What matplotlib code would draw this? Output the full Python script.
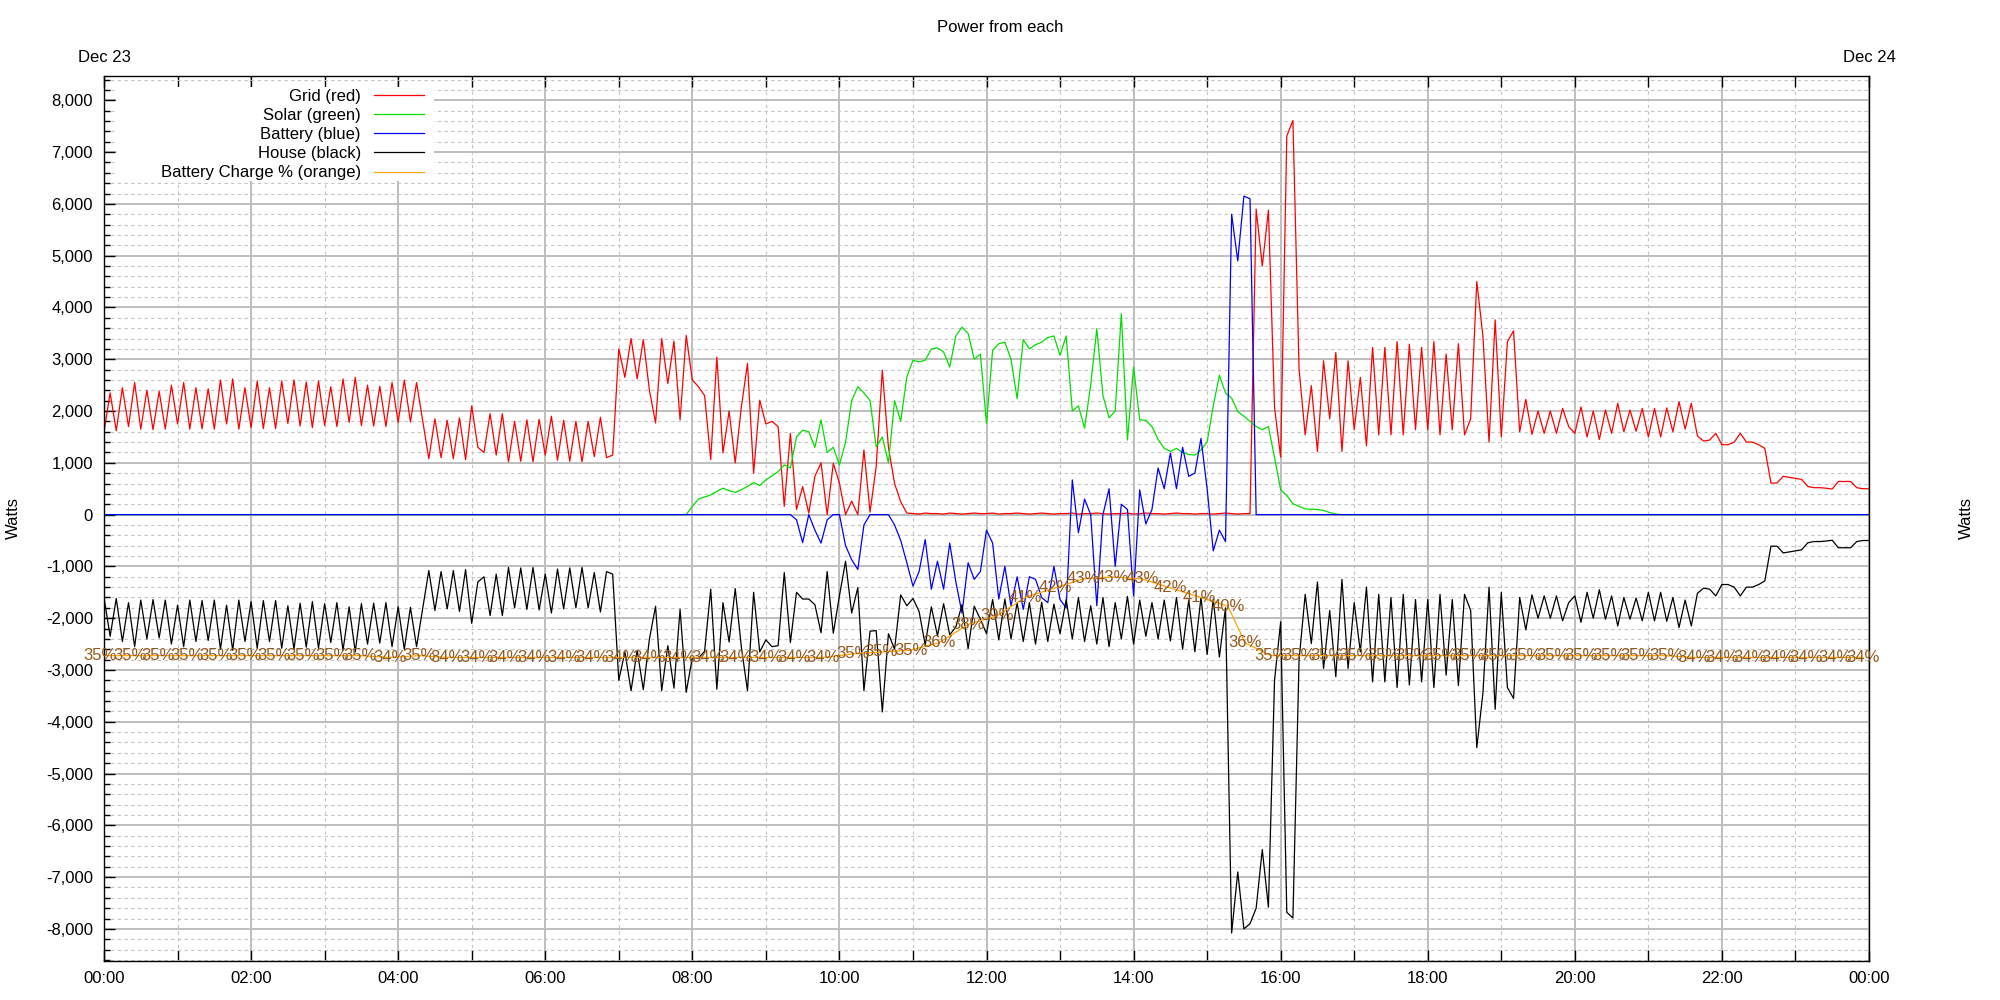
import numpy as np
import matplotlib
matplotlib.use('Agg')
import matplotlib.pyplot as plt
from matplotlib.ticker import MultipleLocator, FuncFormatter
from matplotlib.patches import Rectangle

plt.rcParams['font.family'] = ['Liberation Sans Narrow', 'Liberation Sans', 'DejaVu Sans']
plt.rcParams['font.size'] = 12

# 5-minute samples, minutes after midnight (Dec 23 00:00 .. Dec 24 00:00)
minutes = np.arange(0, 1441, 5)

# Grid power (W), one row per hour
grid = [
    1600, 2350, 1620, 2450, 1700, 2550, 1650, 2400, 1640, 2380, 1650, 2500,
    1750, 2550, 1650, 2450, 1660, 2430, 1650, 2600, 1750, 2620, 1650, 2450,
    1680, 2580, 1660, 2450, 1660, 2580, 1760, 2600, 1710, 2560, 1680, 2580,
    1720, 2470, 1700, 2620, 1780, 2650, 1720, 2500, 1710, 2480, 1700, 2550,
    1780, 2600, 1790, 2550, 1820, 1080, 1850, 1100, 1820, 1080, 1870, 1060,
    2100, 1300, 1200, 1950, 1150, 1950, 1020, 1800, 1030, 1830, 1020, 1840,
    1150, 1900, 1050, 1820, 1030, 1800, 1020, 1800, 1120, 1880, 1100, 1150,
    3200, 2650, 3400, 2620, 3380, 2400, 1770, 3400, 2530, 3350, 1830, 3460,
    2600, 2470, 2300, 1060, 3040, 1190, 2000, 1000, 2080, 2920, 800, 2210,
    1750, 1800, 1700, 160, 1570, 100, 540, 30, 740, 1000, 0, 990,
    610, 0, 260, 0, 1250, 50, 930, 2790, 1300, 600, 250, 30,
    20, 10, 30, 20, 20, 10, 30, 20, 10, 20, 30, 20,
    20, 30, 10, 20, 20, 30, 20, 10, 20, 30, 20, 10,
    20, 20, 30, 10, 20, 20, 30, 20, 10, 20, 20, 30,
    10, 20, 30, 20, 20, 10, 20, 30, 20, 20, 10, 20,
    20, 10, 20, 30, 20, 10, 20, 20, 5900, 4800, 5880, 2070,
    1110, 7310, 7610, 2810, 1540, 2490, 1220, 2970, 1850, 3130, 1220, 2970,
    1640, 2650, 1330, 3230, 1540, 3230, 1540, 3340, 1540, 3290, 1640, 3230,
    1640, 3340, 1540, 3100, 1640, 3300, 1540, 1850, 4500, 3450, 1400, 3760,
    1500, 3340, 3550, 1600, 2225, 1550, 2000, 1570, 2000, 1570, 2050, 1700,
    1570, 2080, 1500, 2000, 1450, 2020, 1570, 2150, 1600, 2020, 1610, 2050,
    1500, 2050, 1500, 2060, 1600, 2180, 1650, 2150, 1520, 1420, 1440, 1570,
    1350, 1350, 1400, 1570, 1400, 1400, 1350, 1280, 610, 610, 740, 720,
    700, 680, 545, 520, 520, 510, 495, 640, 640, 640, 520, 500,
    500,
]

# House power (W)
house = [
    -1600, -2350, -1620, -2450, -1700, -2550, -1650, -2400, -1640, -2380, -1650, -2500,
    -1750, -2550, -1650, -2450, -1660, -2430, -1650, -2600, -1750, -2620, -1650, -2450,
    -1680, -2580, -1660, -2450, -1660, -2580, -1760, -2600, -1710, -2560, -1680, -2580,
    -1720, -2470, -1700, -2620, -1780, -2650, -1720, -2500, -1710, -2480, -1700, -2550,
    -1780, -2600, -1790, -2550, -1820, -1080, -1850, -1100, -1820, -1080, -1870, -1060,
    -2100, -1300, -1200, -1950, -1150, -1950, -1020, -1800, -1030, -1830, -1020, -1840,
    -1150, -1900, -1050, -1820, -1030, -1800, -1020, -1800, -1120, -1880, -1100, -1150,
    -3200, -2650, -3400, -2620, -3380, -2400, -1770, -3400, -2530, -3350, -1830, -3430,
    -2760, -2770, -2640, -1440, -3370, -1700, -2460, -1430, -2560, -3400, -1500, -2650,
    -2420, -2550, -2530, -1120, -2470, -1500, -1630, -1630, -1740, -2280, -1100, -2290,
    -1570, -900, -1900, -1410, -3400, -2250, -2240, -3810, -2300, -2600, -1550, -1760,
    -1620, -1870, -2520, -1780, -2340, -1720, -2320, -2170, -1740, -2590, -1770, -2020,
    -2300, -1640, -2420, -1630, -2400, -1700, -2450, -1700, -2500, -1690, -2450, -1730,
    -2300, -1640, -2400, -1600, -2450, -1760, -2500, -1600, -2550, -1700, -2400, -1580,
    -2500, -1650, -2350, -1700, -2400, -1650, -2440, -1600, -2600, -1650, -2650, -1600,
    -2700, -1630, -2750, -1800, -8080, -6900, -8000, -7900, -7600, -6470, -7580, -3200,
    -2070, -7680, -7790, -2810, -1540, -2490, -1300, -2970, -1850, -3130, -1250, -2970,
    -1700, -2650, -1400, -3230, -1540, -3230, -1600, -3340, -1540, -3290, -1640, -3230,
    -1640, -3340, -1540, -3100, -1640, -3300, -1540, -1850, -4500, -3450, -1400, -3760,
    -1500, -3340, -3550, -1600, -2225, -1550, -2000, -1570, -2000, -1570, -2050, -1700,
    -1570, -2080, -1500, -2000, -1450, -2020, -1570, -2150, -1600, -2020, -1610, -2050,
    -1500, -2050, -1500, -2060, -1600, -2180, -1650, -2150, -1520, -1420, -1440, -1570,
    -1350, -1350, -1400, -1570, -1400, -1400, -1350, -1280, -610, -610, -740, -720,
    -700, -680, -545, -520, -520, -510, -495, -640, -640, -640, -520, -500,
    -500,
]

# Solar power (W), 08:00 .. 16:45, zero otherwise
solar_day = [
    160, 300, 340, 380, 450, 510, 460, 430, 480, 545, 620, 560,
    670, 750, 830, 960, 900, 1500, 1630, 1600, 1300, 1830, 1200, 1300,
    960, 1400, 2200, 2470, 2350, 2200, 1310, 1500, 1000, 2200, 1800, 2660,
    2980, 2950, 2980, 3200, 3220, 3140, 2850, 3450, 3620, 3500, 3000, 3100,
    1760, 3170, 3300, 3330, 3000, 2240, 3380, 3200, 3280, 3330, 3420, 3450,
    3075, 3450, 2000, 2100, 1670, 2500, 3590, 2300, 1870, 2000, 3880, 1440,
    2850, 1830, 1820, 1700, 1450, 1280, 1220, 1280, 1200, 1160, 1150, 1250,
    1400, 2100, 2690, 2350, 2250, 1990, 1900, 1800, 1700, 1640, 1700, 1100,
    480, 370, 210, 160, 110, 105, 100, 80, 40, 10,
]
solar = [0] * 96 + solar_day + [0] * 87

# Battery power (W), 09:25 .. 15:35, zero otherwise
battery_day = [
    -100, -540, 0, -300, -550, -100, 0,
    0, -600, -870, -1060, -200, 0, 0, 0, 0, -200, -500, -930,
    -1380, -1100, -480, -1440, -900, -1440, -550, -1300, -1900, -930, -1250, -1100,
    -300, -550, -1630, -1000, -1760, -1200, -1830, -1200, -1250, -1600, -1700, -1000,
    -1640, -1800, 670, -350, 300, 0, -1760, 0, 500, -1000, 200, 100,
    -1570, 480, -180, 100, 900, 500, 1190, 500, 1300, 740, 800, 1470,
    500, -700, -300, -520, 5800, 4900, 6150, 6100,
]
battery = [0] * 113 + battery_day + [0] * 101

# Battery charge (%), readings roughly every 23 minutes
soc_minutes = [
    -3, 21, 44, 68, 91, 115, 139, 162, 186, 209, 233, 257, 280, 304, 327, 351,
    375, 398, 422, 445, 469, 493, 516, 540, 563, 587, 611, 634, 658, 681, 705,
    729, 752, 776, 799, 823, 847, 870, 894, 917, 931,
    952, 975, 998, 1021, 1044, 1067, 1090, 1113, 1136, 1159, 1182, 1205, 1228,
    1251, 1274, 1297, 1320, 1343, 1366, 1389, 1412, 1435,
]
soc_values = (
    [34.6] * 10 + [34.4, 34.6] + [34.4] * 14
    + [34.8, 35.0, 35.2, 36.0, 38.0, 39.0, 41.0, 42.0, 43.0, 43.2, 43.0, 42.0, 41.0, 40.0]
    + [36.0] + [34.6] * 15 + [34.4] * 7
)

fig = plt.figure(figsize=(20, 10), dpi=100)
ax = fig.add_axes([0.052, 0.039, 0.8825, 0.885])

l1, = ax.plot(minutes, grid, color='#ff0000', lw=0.9, label='Grid (red)')
l2, = ax.plot(minutes, solar, color='#00e000', lw=0.9, label='Solar (green)')
l3, = ax.plot(minutes, battery, color='#0000ff', lw=0.9, label='Battery (blue)')
l4, = ax.plot(minutes, house, color='black', lw=0.9, label='House (black)')

ax.set_xlim(0, 1440)
ax.set_ylim(-8620, 8470)
ax.xaxis.set_major_locator(MultipleLocator(120))
ax.xaxis.set_minor_locator(MultipleLocator(60))
ax.xaxis.set_major_formatter(FuncFormatter(lambda v, p: f"{int(v // 60) % 24:02d}:{int(v % 60):02d}"))
ax.yaxis.set_major_locator(MultipleLocator(1000))
ax.yaxis.set_minor_locator(MultipleLocator(200))
ax.yaxis.set_major_formatter(FuncFormatter(lambda v, p: f"{int(round(v)):,}"))

ax.grid(which='major', color='#bebebe', lw=1.4, ls='-')
ax.grid(which='minor', color='#c4c4c4', lw=0.8, ls=(0, (3, 3)))

ax.tick_params(which='both', direction='in', top=True, right=True, labelright=True, width=1, labelsize=12)
ax.tick_params(axis='y', which='major', length=8, pad=8)
ax.tick_params(axis='y', which='minor', length=4)
ax.tick_params(axis='x', which='both', length=8, pad=7)
for s in ax.spines.values():
    s.set_linewidth(1)

# white box behind the key
ax.add_patch(Rectangle((0.0068, 0.881), 0.18, 0.1066, transform=ax.transAxes,
                       facecolor='white', edgecolor='none', zorder=1.8))

# battery charge on its own hidden scale
ax2 = ax.twinx()
ax2.set_ylim(1.2, 98.0)
ax2.axis('off')
l5, = ax2.plot(soc_minutes, soc_values, color='#ffa500', lw=0.9, label='Battery Charge % (orange)')
for m, v in zip(soc_minutes, soc_values):
    ax2.text(m, v, f"{v:.0f}%", ha='center', va='center', color='#94581c', fontsize=12, clip_on=False)

handles = [l1, l2, l3, l4, l5]
ax2.legend(handles, [h.get_label() for h in handles], loc='upper right', bbox_to_anchor=(0.1813, 0.9855),
           frameon=False, markerfirst=False, handlelength=3.0, handletextpad=0.78,
           labelspacing=0.25, borderpad=0, borderaxespad=0, fontsize=12)

fig.text(0.5, 0.973, 'Power from each', ha='center', va='center', fontsize=12)
fig.text(0.052, 0.943, 'Dec 23', ha='center', va='center', fontsize=12)
fig.text(0.9345, 0.943, 'Dec 24', ha='center', va='center', fontsize=12)
fig.text(0.0065, 0.482, 'Watts', rotation=90, ha='center', va='center', fontsize=12)
fig.text(0.983, 0.482, 'Watts', rotation=90, ha='center', va='center', fontsize=12)

fig.savefig('out.png', dpi=100)
